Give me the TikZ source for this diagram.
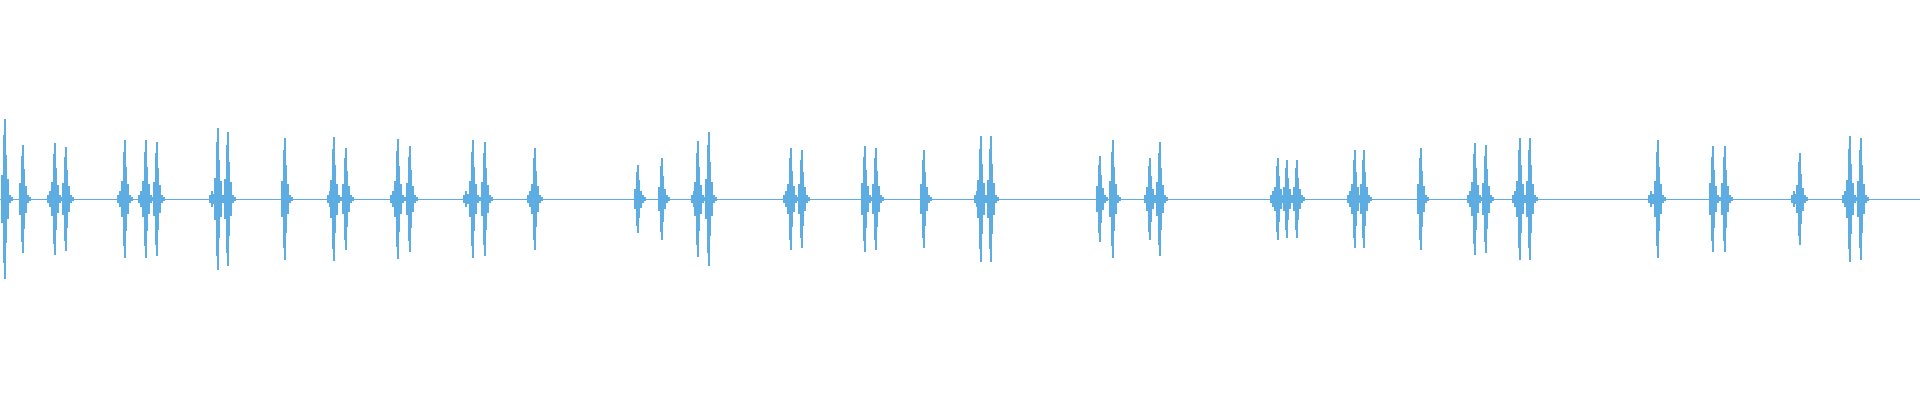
\documentclass[tikz,border=0pt]{standalone}
\usepackage{xcolor}
\definecolor{wave}{HTML}{5DADE2}
\usetikzlibrary{calc}

\begin{document}
\begin{tikzpicture}[
  x=1pt,
  y=-1pt,
  spike/.style={wave, line width=1.1pt},
  baseline/.style={wave, line width=0.8pt},
]

\useasboundingbox (0,0) rectangle (1920,400);

% Baseline
\draw[baseline] (0,199) -- (1920,199);

% Small leading bursts
\foreach \x in {50,120,141,212,330,393,466,530,694,786,977,1147,1273,1350,1470,1515,1651,1794,1845}
  \draw[spike] (\x,191) -- (\x,207) (\x+2,194) -- (\x+2,204) (\x-2,195) -- (\x-2,203);

% Main bursts: position / half height
\foreach \x/\h in {5/80,23/54,55/56,66/52,125/59,146/59,157/57,218/71,228/67,
                  285/61,334/62,346/51,398/60,410/53,473/59,485/57,535/51,
                  638/34,662/41,698/58,709/67,791/51,802/49,865/53,876/51,924/49,
                  981/63,991/63,1100/43,1113/59,1150/41,1160/57,1278/41,1287/39,1297/39,
                  1355/49,1364/49,1421/51,1475/56,1486/54,1520/61,1530/61,
                  1658/59,1713/53,1725/53,1800/46,1850/63,1861/61}
{
  \draw[spike] (\x,199-\h) -- (\x,199+\h);
  \draw[spike] (\x-1.5,199-0.8*\h) -- (\x-1.5,199+0.8*\h);
  \draw[spike] (\x+1.5,199-0.55*\h) -- (\x+1.5,199+0.55*\h);
  \draw[spike] (\x-3,199-0.3*\h) -- (\x-3,199+0.3*\h);
  \draw[spike] (\x+3,199-0.25*\h) -- (\x+3,199+0.25*\h);
  \draw[spike] (\x+5,195) -- (\x+5,203) (\x+7,197) -- (\x+7,201);
}

\end{tikzpicture}
\end{document}
